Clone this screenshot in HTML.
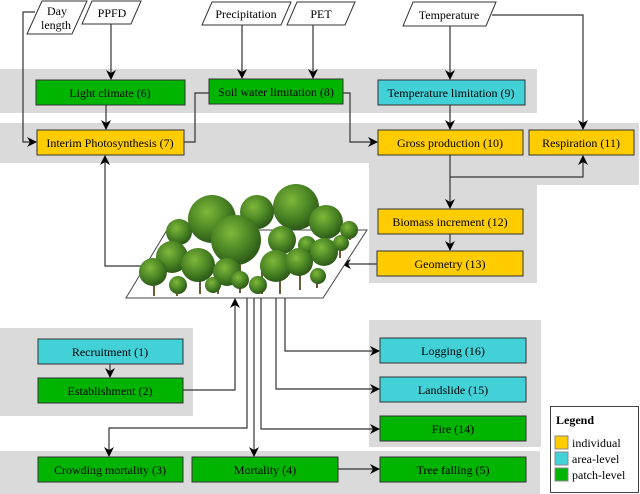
<!DOCTYPE html>
<html><head><style>
html,body{margin:0;padding:0;background:#fff;}
svg{display:block;}
</style></head><body>
<svg width="640" height="494" viewBox="0 0 640 494" xmlns="http://www.w3.org/2000/svg">
<defs>
<marker id="a" markerWidth="10" markerHeight="10" refX="9" refY="5" orient="auto" markerUnits="userSpaceOnUse"><path d="M0,0 L10,5 L0,10 L3,5 Z" fill="#000"/></marker>
<radialGradient id="tg" cx="40%" cy="35%" r="65%"><stop offset="0" stop-color="#7fb83a"/><stop offset="0.6" stop-color="#4a8424"/><stop offset="1" stop-color="#2d5a18"/></radialGradient>
</defs>
<g fill="#dadada">
<rect x="0" y="69" width="537" height="44"/>
<rect x="0" y="123" width="639" height="40"/>
<path d="M369,123 H639 V185 H537 V283 H369 Z"/>
<rect x="0" y="328" width="193" height="88"/>
<rect x="369" y="320" width="172" height="127"/>
<rect x="0" y="451" width="540" height="43"/>
</g>
<g stroke="#333" stroke-width="1.2" fill="none">
<path d="M35,12 H23 V142 H36" marker-end="url(#a)"/>
<path d="M111,24 V79" marker-end="url(#a)"/>
<path d="M106,105 V129" marker-end="url(#a)"/>
<path d="M242,25 V78" marker-end="url(#a)"/>
<path d="M313,25 V78" marker-end="url(#a)"/>
<path d="M209,93 H195 V142 H184"/>
<path d="M343,93 H350 V142 H377" marker-end="url(#a)"/>
<path d="M450,26 V79" marker-end="url(#a)"/>
<path d="M450,105 V129" marker-end="url(#a)"/>
<path d="M492,15 H583 V129" marker-end="url(#a)"/>
<path d="M450,155 V208" marker-end="url(#a)"/>
<path d="M450,177 H583 V156" marker-end="url(#a)"/>
<path d="M450,234 V250" marker-end="url(#a)"/>
<path d="M377,264 H342" marker-end="url(#a)"/>
<path d="M145,266 H105 V156" marker-end="url(#a)"/>
<path d="M110,364 V377" marker-end="url(#a)"/>
<path d="M183,390 H235 V299" marker-end="url(#a)"/>
<path d="M247,298 V428 H109 V456" marker-end="url(#a)"/>
<path d="M254,298 V456" marker-end="url(#a)"/>
<path d="M261,298 V429 H379" marker-end="url(#a)"/>
<path d="M276,298 V389 H379" marker-end="url(#a)"/>
<path d="M285,298 V351 H379" marker-end="url(#a)"/>
<path d="M338,469 H379" marker-end="url(#a)"/>
</g>
<g fill="#fff" stroke="#333" stroke-width="1">
<path d="M42,1 H87 L72,34 H27 Z"/>
<path d="M92,1 H141 L131,24 H82 Z"/>
<path d="M212,2 H291 L281,25 H202 Z"/>
<path d="M297,2 H355 L345,25 H287 Z"/>
<path d="M413,2 H496 L486,26 H403 Z"/>
</g>
<g font-family="Liberation Serif, DejaVu Serif, serif" font-size="12" fill="#000" text-anchor="middle">
<text x="57" y="15">Day</text>
<text x="56" y="29">length</text>
<text x="112" y="17">PPFD</text>
<text x="246" y="18">Precipitation</text>
<text x="321" y="18">PET</text>
<text x="449" y="19">Temperature</text>
</g>
<path d="M126,298 H323 L367,230 H167 Z" fill="#fff" stroke="#444" stroke-width="1"/>
<g stroke="#6b5a3a" stroke-width="2">
<line x1="154" y1="270" x2="154" y2="296"/><line x1="177" y1="282" x2="177" y2="296"/><line x1="200" y1="265" x2="200" y2="294"/><line x1="218" y1="275" x2="218" y2="294"/><line x1="240" y1="260" x2="240" y2="293"/><line x1="262" y1="270" x2="262" y2="294"/><line x1="280" y1="265" x2="280" y2="294"/><line x1="300" y1="262" x2="300" y2="290"/><line x1="317" y1="268" x2="317" y2="288"/><line x1="340" y1="240" x2="340" y2="258"/><line x1="350" y1="226" x2="350" y2="240"/>
</g>
<g fill="url(#tg)">
<circle cx="179" cy="232" r="13"/><circle cx="212" cy="219" r="24"/><circle cx="296" cy="207" r="23"/><circle cx="326" cy="222" r="17"/><circle cx="257" cy="212" r="17"/>
<circle cx="349" cy="230" r="9"/><circle cx="172" cy="257" r="16"/><circle cx="236" cy="240" r="25"/><circle cx="282" cy="240" r="14"/><circle cx="307" cy="245" r="9"/><circle cx="324" cy="252" r="14"/><circle cx="341" cy="243" r="8"/>
<circle cx="153" cy="272" r="14"/><circle cx="198" cy="265" r="17"/><circle cx="227" cy="272" r="14"/><circle cx="276" cy="266" r="16"/><circle cx="299" cy="262" r="14"/><circle cx="258" cy="285" r="9"/><circle cx="178" cy="285" r="9"/><circle cx="213" cy="285" r="8"/><circle cx="240" cy="280" r="9"/><circle cx="318" cy="276" r="8"/>
</g>
<g stroke="#333" stroke-width="1">
<rect x="36" y="80" width="149" height="25" fill="#00b400"/>
<rect x="209" y="79" width="134" height="25" fill="#00b400"/>
<rect x="37" y="130" width="147" height="25" fill="#ffcc00"/>
<rect x="378" y="80" width="147" height="25" fill="#43d1d8"/>
<rect x="378" y="130" width="145" height="25" fill="#ffcc00"/>
<rect x="529" y="130" width="105" height="25" fill="#ffcc00"/>
<rect x="378" y="209" width="145" height="25" fill="#ffcc00"/>
<rect x="377" y="251" width="146" height="25" fill="#ffcc00"/>
<rect x="38" y="339" width="145" height="25" fill="#43d1d8"/>
<rect x="38" y="378" width="145" height="25" fill="#00b400"/>
<rect x="380" y="338" width="146" height="25" fill="#43d1d8"/>
<rect x="380" y="377" width="146" height="25" fill="#43d1d8"/>
<rect x="380" y="416" width="146" height="25" fill="#00b400"/>
<rect x="38" y="457" width="145" height="25" fill="#00b400"/>
<rect x="192" y="457" width="146" height="25" fill="#00b400"/>
<rect x="380" y="457" width="146" height="25" fill="#00b400"/>
</g>
<g font-family="Liberation Serif, DejaVu Serif, serif" font-size="12" fill="#000" text-anchor="middle">
<text x="110" y="97">Light climate (6)</text>
<text x="276" y="96">Soil water limitation (8)</text>
<text x="110" y="147">Interim Photosynthesis (7)</text>
<text x="451" y="97">Temperature limitation (9)</text>
<text x="450" y="147">Gross production (10)</text>
<text x="581" y="147">Respiration (11)</text>
<text x="450" y="226">Biomass increment (12)</text>
<text x="450" y="268">Geometry (13)</text>
<text x="110" y="356">Recruitment (1)</text>
<text x="110" y="395">Establishment (2)</text>
<text x="453" y="355">Logging (16)</text>
<text x="453" y="394">Landslide (15)</text>
<text x="453" y="433">Fire (14)</text>
<text x="110" y="474">Crowding mortality (3)</text>
<text x="265" y="474">Mortality (4)</text>
<text x="453" y="474">Tree falling (5)</text>
</g>
<rect x="550.5" y="406.5" width="88" height="86" fill="#fff" stroke="#444" stroke-width="1"/>
<rect x="555" y="436" width="13" height="13" fill="#ffcc00" stroke="#888"/>
<rect x="555" y="452" width="13" height="13" fill="#43d1d8" stroke="#888"/>
<rect x="555" y="468" width="13" height="13" fill="#00b400" stroke="#888"/>
<g font-family="Liberation Serif, DejaVu Serif, serif" font-size="12" fill="#000">
<text x="556" y="424" font-weight="bold">Legend</text>
<text x="572" y="447">individual</text>
<text x="572" y="463">area-level</text>
<text x="572" y="479">patch-level</text>
</g>
</svg>
</body></html>
